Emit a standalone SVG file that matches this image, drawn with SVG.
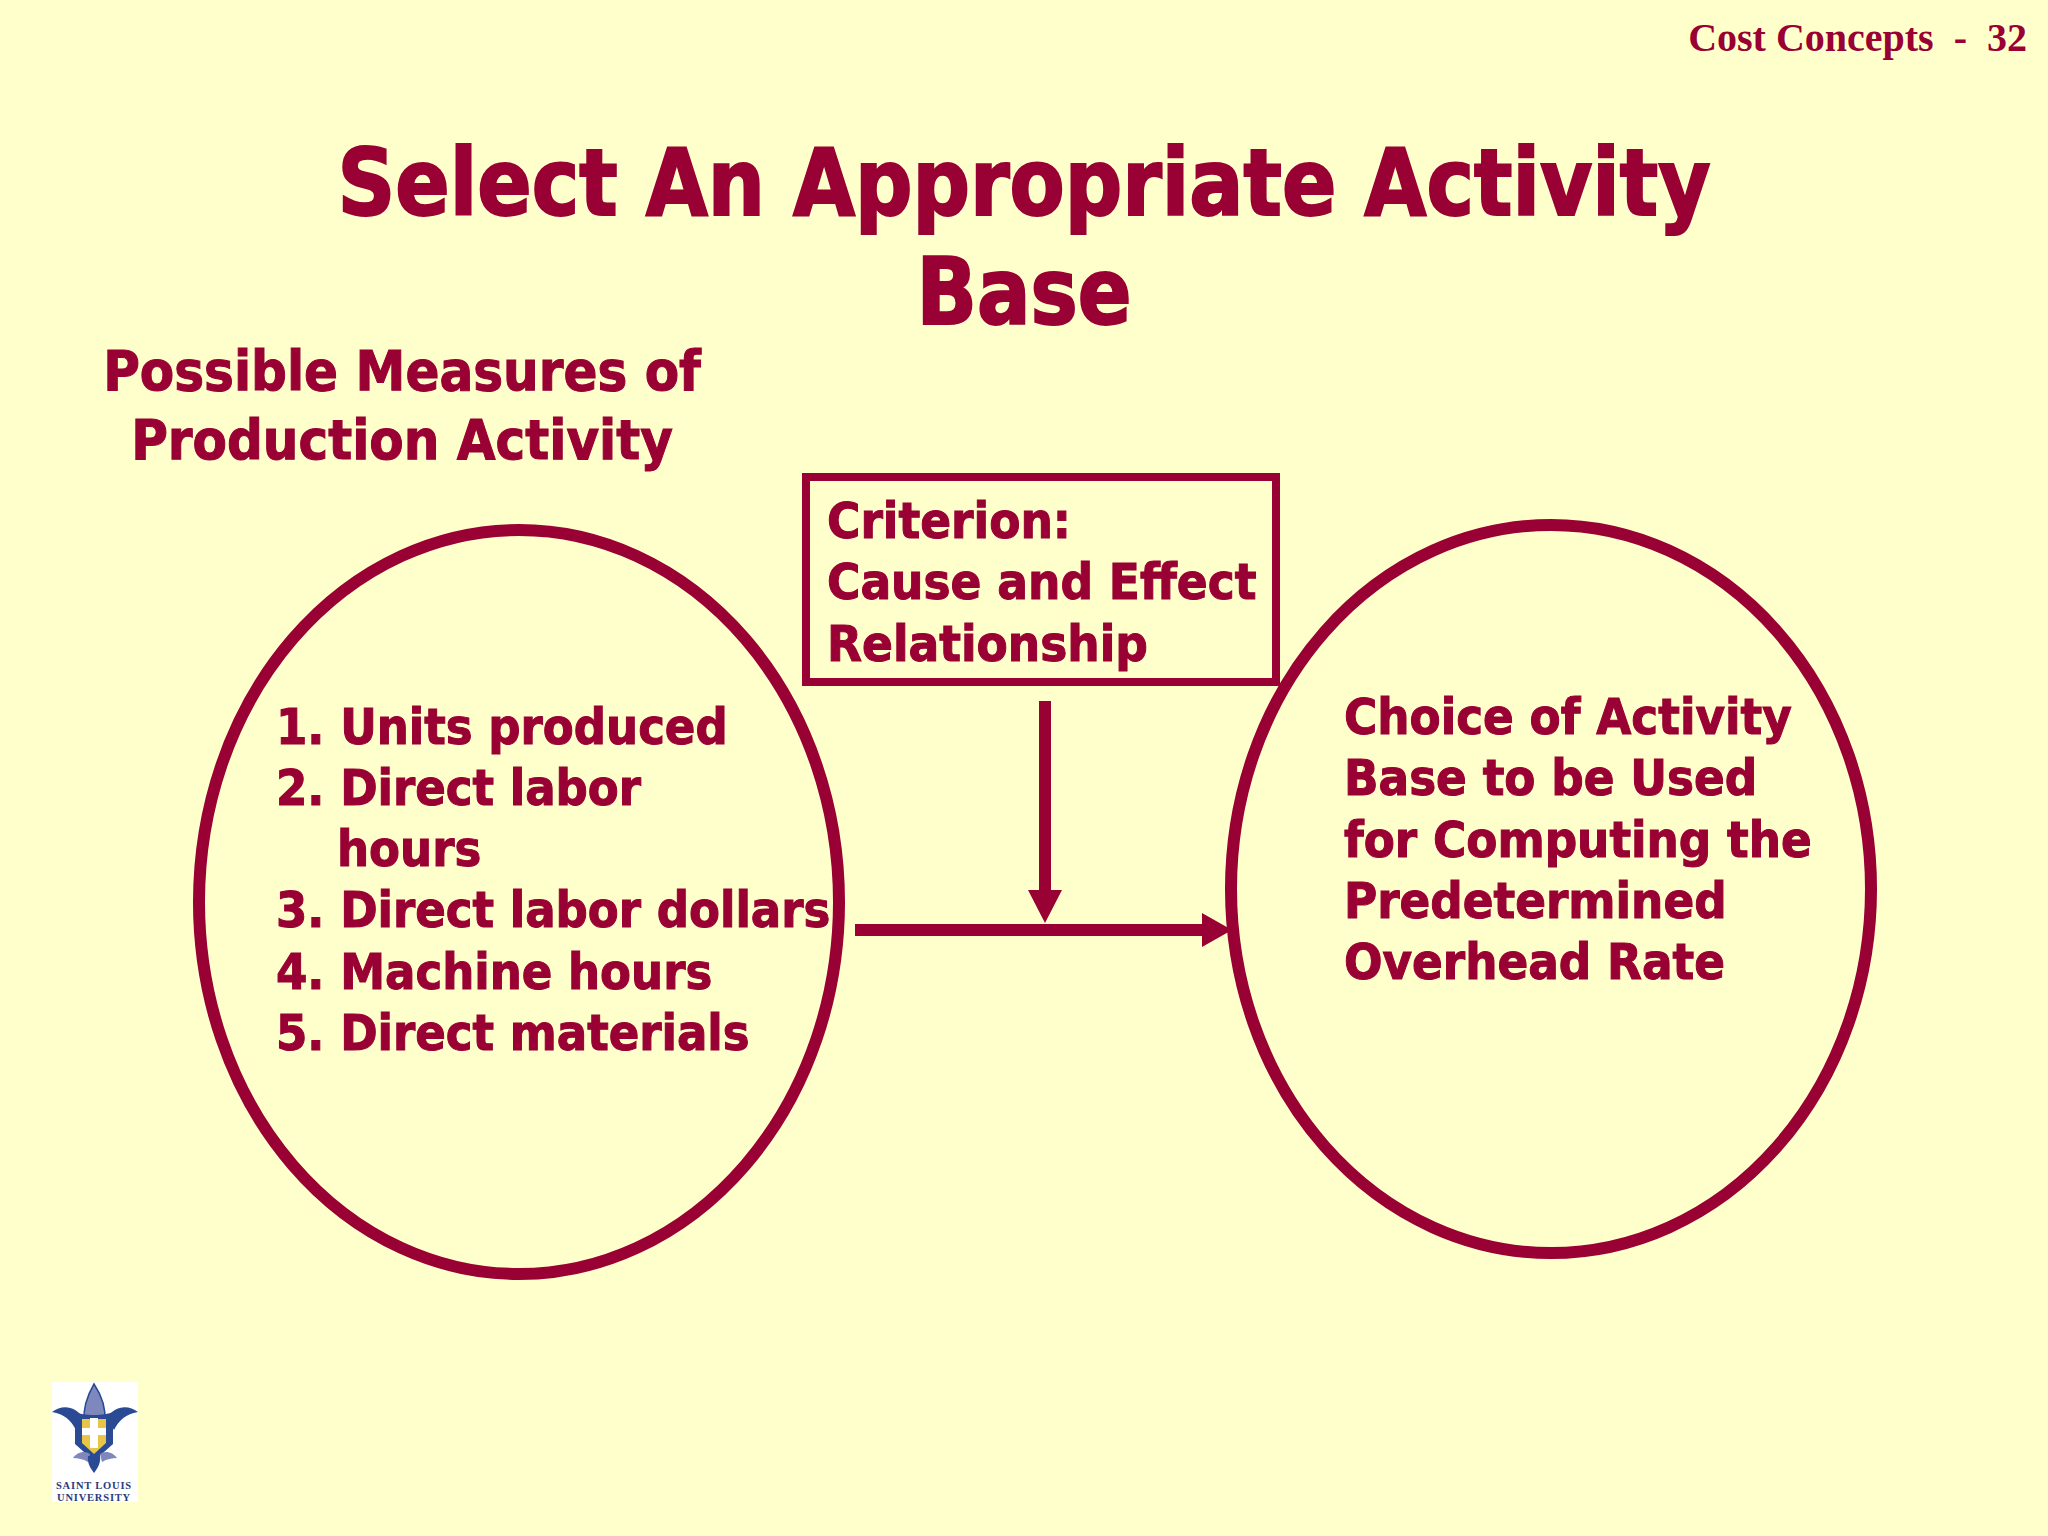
<svg xmlns="http://www.w3.org/2000/svg" width="2048" height="1536" viewBox="0 0 2048 1536">
<style>
text{fill:#990033;stroke:#990033;font-family:"DejaVu Sans Condensed","DejaVu Sans",sans-serif;font-weight:700}
.t{font-size:92px;text-anchor:middle;stroke-width:2}
.h{font-size:55.7px;text-anchor:middle;stroke-width:1}
.b{font-size:50.4px;stroke-width:1}
.c{font-size:50.6px;stroke-width:1}
.m{font-size:50.1px;stroke-width:1}
.s{fill:none;stroke:#990033}
.a{fill:#990033}
.l{font-family:"Liberation Serif",serif;fill:#2a3a7a;stroke:none;font-weight:700;text-anchor:middle;font-size:10.5px;letter-spacing:.8px}
</style>
<rect id="background" width="2048" height="1536" fill="#ffffcc"/>
<text id="header" x="2027" y="51" text-anchor="end" xml:space="preserve" style="font-family:'Liberation Serif',serif;font-size:40px;stroke:none">Cost Concepts  -  32</text>
<g id="title"><text class="t" x="1024" y="215" textLength="1373" lengthAdjust="spacingAndGlyphs">Select An Appropriate Activity</text><text class="t" x="1024" y="324" textLength="215" lengthAdjust="spacingAndGlyphs">Base</text></g>
<g id="measures-heading"><text class="h" x="402" y="390">Possible Measures of</text><text class="h" x="402" y="459">Production Activity</text></g>
<g id="measures-node"><ellipse class="s" stroke-width="12" cx="519" cy="902" rx="320" ry="372"/>
<text class="m" x="276" y="744">1. Units produced</text><text class="m" x="276" y="805">2. Direct labor</text><text class="m" x="337" y="866">hours</text><text class="m" x="276" y="927">3. Direct labor dollars</text><text class="m" x="276" y="989">4. Machine hours</text><text class="m" x="276" y="1050">5. Direct materials</text></g>
<g id="choice-node"><ellipse class="s" stroke-width="12" cx="1551" cy="889" rx="320" ry="364"/>
<text class="b" x="1344" y="734">Choice of Activity</text><text class="b" x="1344" y="795">Base to be Used</text><text class="b" x="1344" y="857">for Computing the</text><text class="b" x="1344" y="918">Predetermined</text><text class="b" x="1344" y="979">Overhead Rate</text></g>
<g id="criterion-node"><rect class="s" stroke-width="8" x="806" y="477" width="470" height="205"/>
<text class="c" x="827" y="538">Criterion:</text><text class="c" x="827" y="599">Cause and Effect</text><text class="c" x="827" y="661">Relationship</text></g>
<g id="connectors"><path class="a" d="M1039 701h12v189h11l-17 33-17-33h11z"/><path class="a" d="M855 924h347v-11l30 17-30 17v-11H855z"/></g>
<g id="logo"><rect x="52" y="1382" width="86" height="120" fill="#fff"/>
<path fill="#7f88bd" stroke="#2a4a94" stroke-width="1.5" d="M94 1384c-7 12-11 24-10 38h21c1-14-3-26-11-38z"/>
<path fill="#2a4a94" d="M52 1412c10-8 24-6 31 6l-7 12c-5-10-12-16-24-18zM138 1412c-10-8-24-6-31 6l7 12c5-10 12-16 24-18z"/>
<path fill="#2a4a94" d="M75 1412c8 4 30 4 38 0v32l-19 17-19-17z"/>
<path fill="#e8c544" d="M82 1419h24v24l-12 11-12-11z"/>
<path fill="#fff" d="M90 1418h8v30h-8zM82 1428h24v7H82z"/>
<path fill="#7f88bd" d="M73 1458c4-6 12-8 17-4l-2 8c-5-3-10-4-15-4zM117 1458c-4-6-12-8-17-4l2 8c5-3 10-4 15-4z"/>
<path fill="#2a4a94" d="M88 1456h12c1 6-2 12-6 17-4-5-7-11-6-17z"/>
<text class="l" x="94" y="1489">SAINT LOUIS</text>
<text class="l" x="94" y="1501">UNIVERSITY</text></g>
</svg>
